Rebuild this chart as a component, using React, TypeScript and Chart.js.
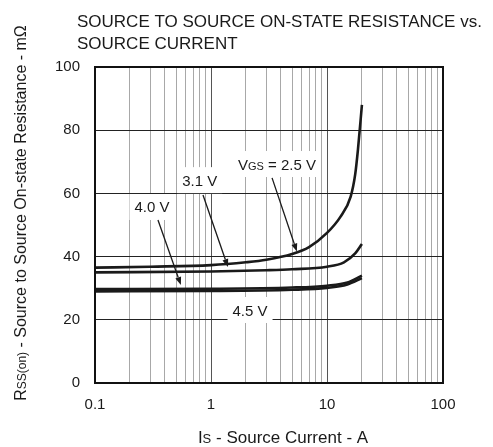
import React, { useEffect, useRef } from 'react';
import { Chart, registerables } from 'chart.js';

Chart.register(...registerables);

// ---- data ----
const currentVgs25 = [0.1, 0.3, 1, 2, 3, 5, 7, 10, 13, 16, 17.5, 18.5, 20];
const rssVgs25 = [36.5, 36.8, 37.3, 38.2, 39, 40.8, 43, 47.5, 52.5, 59, 66, 74, 88];

const currentVgs31 = [0.1, 1, 3, 5, 10, 14, 17.5, 20];
const rssVgs31 = [35, 35.3, 35.7, 36, 36.8, 38.2, 41, 44];

const currentVgs40 = [0.1, 1, 5, 10, 15, 20];
const rssVgs40 = [29.7, 29.8, 30.2, 30.8, 31.8, 34];

const currentVgs45 = [0.1, 1, 5, 10, 15, 20];
const rssVgs45 = [29.0, 29.1, 29.5, 30.1, 31.2, 33.2];

const xTickValues = [
  0.1, 0.2, 0.3, 0.4, 0.5, 0.6, 0.7, 0.8, 0.9,
  1, 2, 3, 4, 5, 6, 7, 8, 9,
  10, 20, 30, 40, 50, 60, 70, 80, 90, 100,
];
const xTickLabels = ['0.1', '1', '10', '100'];
const yTickValues = [0, 20, 40, 60, 80, 100];

// annotation labels (data coordinates)
const labelTexts = ['V_{GS} = 2.5 V', '3.1 V', '4.0 V', '4.5 V'];
const labelCurrent = [3.7, 0.8, 0.31, 2.17];
const labelRss = [69.3, 64.2, 55.7, 23.1];

// arrows: from label to curve (data coordinates)
const arrowFromCurrent = [3.36, 0.853, 0.349];
const arrowFromRss = [64.9, 59.5, 51.6];
const arrowToCurrent = [5.5, 1.4, 0.55];
const arrowToRss = [41.6, 36.7, 31.0];

const titleLines = ['SOURCE TO SOURCE ON-STATE RESISTANCE vs.', 'SOURCE CURRENT'];
const xTitle = 'I_{S} - Source Current - A';
const yTitle = 'R_{SS(on)} - Source to Source On-state Resistance - mΩ';

const FONT = '"Liberation Sans", Arial, Helvetica, sans-serif';
const INK = '#1a1a1a';

function parseRich(s: string): Array<[string, boolean]> {
  const out: Array<[string, boolean]> = [];
  const re = /_\{([^}]*)\}/g;
  let last = 0;
  let m: RegExpExecArray | null;
  while ((m = re.exec(s))) {
    if (m.index > last) out.push([s.slice(last, m.index), false]);
    out.push([m[1], true]);
    last = m.index + m[0].length;
  }
  if (last < s.length) out.push([s.slice(last), false]);
  return out;
}

function richWidth(ctx: CanvasRenderingContext2D, s: string, size: number) {
  let w = 0;
  for (const [t, small] of parseRich(s)) {
    ctx.font = `${small ? Math.round(size * 0.75) : size}px ${FONT}`;
    w += ctx.measureText(t).width;
  }
  return w;
}

// draws with left start at x, alphabetic baseline at y
function drawRich(ctx: CanvasRenderingContext2D, s: string, x: number, y: number, size: number) {
  let cx = x;
  ctx.textBaseline = 'alphabetic';
  ctx.textAlign = 'left';
  for (const [t, small] of parseRich(s)) {
    ctx.font = `${small ? Math.round(size * 0.75) : size}px ${FONT}`;
    ctx.fillText(t, cx, y);
    cx += ctx.measureText(t).width;
  }
}

const decorations = {
  id: 'decorations',
  beforeDatasetsDraw(chart: any) {
    const { ctx, scales } = chart;
    const xs = scales.x;
    const ys = scales.y;
    ctx.save();
    const size = 15;
    for (let i = 0; i < labelTexts.length; i++) {
      const cx = xs.getPixelForValue(labelCurrent[i]);
      const cy = ys.getPixelForValue(labelRss[i]);
      const w = richWidth(ctx, labelTexts[i], size);
      ctx.fillStyle = '#ffffff';
      ctx.fillRect(cx - w / 2 - 5, cy - 13, w + 10, 26);
      ctx.fillStyle = INK;
      drawRich(ctx, labelTexts[i], cx - w / 2, cy + 5.5, size);
    }
    ctx.restore();
  },
  afterDatasetsDraw(chart: any) {
    const { ctx, scales, chartArea } = chart;
    const xs = scales.x;
    const ys = scales.y;
    ctx.save();
    ctx.strokeStyle = INK;
    ctx.fillStyle = INK;
    ctx.lineWidth = 1.3;
    for (let i = 0; i < arrowFromCurrent.length; i++) {
      const x1 = xs.getPixelForValue(arrowFromCurrent[i]);
      const y1 = ys.getPixelForValue(arrowFromRss[i]);
      const x2 = xs.getPixelForValue(arrowToCurrent[i]);
      const y2 = ys.getPixelForValue(arrowToRss[i]);
      const ang = Math.atan2(y2 - y1, x2 - x1);
      const hl = 8;
      const hw = 3;
      const bx = x2 - hl * Math.cos(ang);
      const by = y2 - hl * Math.sin(ang);
      ctx.beginPath();
      ctx.moveTo(x1, y1);
      ctx.lineTo(bx, by);
      ctx.stroke();
      ctx.beginPath();
      ctx.moveTo(x2, y2);
      ctx.lineTo(bx + hw * Math.sin(ang), by - hw * Math.cos(ang));
      ctx.lineTo(bx - hw * Math.sin(ang), by + hw * Math.cos(ang));
      ctx.closePath();
      ctx.fill();
    }
    // frame
    ctx.lineWidth = 2;
    ctx.strokeStyle = '#111';
    ctx.strokeRect(chartArea.left, chartArea.top, chartArea.right - chartArea.left, chartArea.bottom - chartArea.top);
    ctx.restore();
  },
  afterDraw(chart: any) {
    const { ctx } = chart;
    ctx.save();
    ctx.fillStyle = INK;
    // main title
    ctx.font = `17px ${FONT}`;
    ctx.textAlign = 'left';
    ctx.textBaseline = 'alphabetic';
    ctx.fillText(titleLines[0], 77, 27);
    ctx.fillText(titleLines[1], 77, 49);
    // x title
    const xw = richWidth(ctx, xTitle, 17);
    drawRich(ctx, xTitle, 283 - xw / 2, 443, 17);
    // y title
    const yw = richWidth(ctx, yTitle, 16);
    ctx.translate(26, 213);
    ctx.rotate(-Math.PI / 2);
    drawRich(ctx, yTitle, -yw / 2, 0, 16);
    ctx.restore();
  },
};

function isDecade(v: number) {
  const l = Math.log10(v);
  return Math.abs(l - Math.round(l)) < 1e-6;
}

function line(label: string, xsArr: number[], ysArr: number[]) {
  return {
    label,
    data: xsArr.map((x, i) => ({ x, y: ysArr[i] })),
    borderColor: INK,
    borderWidth: 2.6,
    pointRadius: 0,
    fill: false,
    cubicInterpolationMode: 'monotone' as const,
  };
}

export default function App() {
  const ref = useRef<HTMLCanvasElement | null>(null);

  useEffect(() => {
    if (!ref.current) return;
    const chart = new Chart(ref.current, {
      type: 'line',
      data: {
        datasets: [
          line('VGS = 2.5 V', currentVgs25, rssVgs25),
          line('3.1 V', currentVgs31, rssVgs31),
          line('4.0 V', currentVgs40, rssVgs40),
          line('4.5 V', currentVgs45, rssVgs45),
        ],
      },
      options: {
        animation: false,
        responsive: false,
        devicePixelRatio: 1,
        layout: { padding: { left: 0, top: 67, right: 50, bottom: 0 } },
        plugins: {
          legend: { display: false },
          title: { display: false },
          tooltip: { enabled: false },
        },
        scales: {
          x: {
            type: 'logarithmic',
            min: 0.1,
            max: 100,
            afterBuildTicks: (scale: any) => {
              scale.ticks = xTickValues.map((v) => ({ value: v }));
            },
            afterFit: (scale: any) => {
              scale.height = 64;
            },
            grid: {
              drawTicks: false,
              color: (c: any) => (c.tick && isDecade(c.tick.value) ? '#555' : '#a8a8a8'),
              lineWidth: 1,
            },
            border: { display: false },
            ticks: {
              autoSkip: false,
              maxRotation: 0,
              padding: 13,
              color: INK,
              font: { size: 15, family: FONT },
              callback: (v: any) => {
                const s = String(Number(v));
                return xTickLabels.includes(s) ? s : '';
              },
            },
          },
          y: {
            min: 0,
            max: 100,
            afterBuildTicks: (scale: any) => {
              scale.ticks = yTickValues.map((v) => ({ value: v }));
            },
            afterFit: (scale: any) => {
              scale.width = 95;
            },
            grid: { drawTicks: false, color: '#222', lineWidth: 1 },
            border: { display: false },
            ticks: {
              padding: 15,
              color: INK,
              font: { size: 15, family: FONT },
            },
          },
        },
      },
      plugins: [decorations],
    } as any);
    return () => chart.destroy();
  }, []);

  return (
    <div style={{ position: 'absolute', left: 0, top: 0, width: 493, height: 447, background: '#fff' }}>
      <canvas ref={ref} width={493} height={447} style={{ width: 493, height: 447, display: 'block' }} />
    </div>
  );
}
